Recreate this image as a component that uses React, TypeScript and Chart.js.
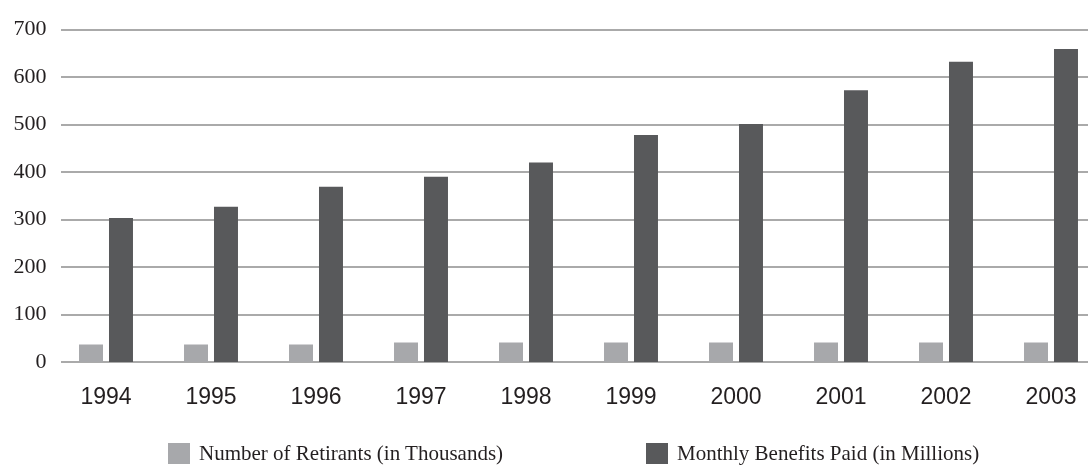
import { useEffect, useRef } from "react";
import { Chart, registerables } from "chart.js";

Chart.register(...registerables);

const years = ["1994", "1995", "1996", "1997", "1998", "1999", "2000", "2001", "2002", "2003"];
const retirants = [37, 37, 37, 41, 41, 41, 41, 41, 41, 41];
const benefits = [303, 327, 369, 390, 420, 478, 501, 572, 632, 659];
const seriesLabels = ["Number of Retirants (in Thousands)", "Monthly Benefits Paid (in Millions)"];
const seriesColors = ["#a7a8ab", "#58595b"];
const yMin = 0;
const yMax = 700;
const yStep = 100;

const serifFont = '"Liberation Serif", "Times New Roman", serif';
const sansNarrow = '"Liberation Sans Narrow", "Arial Narrow", "Liberation Sans", Arial, sans-serif';
const textColor = "#231f20";

export default function App() {
  const ref = useRef<HTMLCanvasElement>(null);

  useEffect(() => {
    const gridPlugin = {
      id: "offsetGrid",
      beforeDatasetsDraw(chart: any) {
        const { ctx, chartArea, scales } = chart;
        const y = scales.y;
        ctx.save();
        ctx.strokeStyle = "#aaaaaa";
        ctx.lineWidth = 2;
        y.ticks.forEach((t: any) => {
          const py = Math.round(y.getPixelForValue(t.value));
          ctx.beginPath();
          ctx.moveTo(chartArea.left + 7.5, py);
          ctx.lineTo(chartArea.right, py);
          ctx.stroke();
        });
        ctx.restore();
      },
    };

    const chart = new Chart(ref.current!, {
      type: "bar",
      data: {
        labels: years,
        datasets: [
          { label: seriesLabels[0], data: retirants, backgroundColor: seriesColors[0], borderWidth: 0 },
          { label: seriesLabels[1], data: benefits, backgroundColor: seriesColors[1], borderWidth: 0 },
        ],
      },
      options: {
        responsive: false,
        animation: false,
        layout: { padding: { left: 0, right: 6.5, top: 29.5, bottom: 55 } },
        datasets: { bar: { categoryPercentage: 0.571, barPercentage: 0.8 } },
        plugins: { legend: { display: false }, tooltip: { enabled: false } },
        scales: {
          x: {
            grid: { display: false, drawTicks: false },
            border: { display: false },
            ticks: { font: { family: sansNarrow, size: 23 }, color: textColor, padding: 22, maxRotation: 0 },
            afterFit: (s: any) => {
              s.height = 49;
            },
          },
          y: {
            min: yMin,
            max: yMax,
            grid: { display: false, drawTicks: false },
            border: { display: false },
            ticks: { stepSize: yStep, padding: 7, font: { family: serifFont, size: 22 }, color: textColor },
            afterFit: (s: any) => {
              s.width = 53.5;
            },
          },
        },
      } as any,
      plugins: [gridPlugin],
    });
    return () => chart.destroy();
  }, []);

  const legendItem = (i: number, left: number) => (
    <div
      key={i}
      style={{
        position: "absolute",
        left,
        top: 442,
        display: "flex",
        alignItems: "center",
        height: 22,
        whiteSpace: "nowrap",
      }}
    >
      <span style={{ display: "inline-block", width: 22, height: 21, background: seriesColors[i], marginRight: 9 }} />
      <span style={{ fontFamily: serifFont, fontSize: 21, color: textColor, lineHeight: "22px" }}>{seriesLabels[i]}</span>
    </div>
  );

  return (
    <div style={{ position: "absolute", left: 0, top: 0, width: 1088, height: 466, overflow: "hidden", background: "#fff" }}>
      <canvas ref={ref} width={1110} height={466} style={{ display: "block" }} />
      {legendItem(0, 168)}
      {legendItem(1, 646)}
    </div>
  );
}
